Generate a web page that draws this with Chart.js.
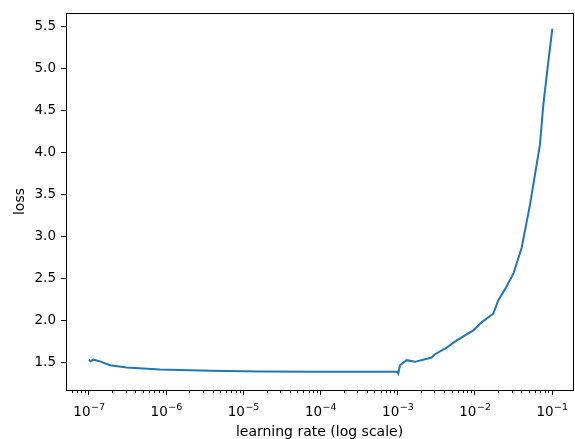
<!DOCTYPE html>
<html>
<head>
<meta charset="utf-8">
<script src="https://cdn.jsdelivr.net/npm/chart.js@4.4.1/dist/chart.umd.min.js"></script>
<style>
  html, body { margin: 0; padding: 0; background: #fff; }
</style>
</head>
<body>
<canvas id="lrChart" width="575" height="439"></canvas>
<script>
// learning rate finder curve
const learningRates = [1.0e-7, 1.05e-7, 1.14e-7, 1.39e-7, 1.87e-7, 3.08e-7, 8.3e-7, 3.7e-6, 1.64e-5, 9.8e-5, 3.2e-4,
    9.9e-4, 1.02e-3, 1.07e-3, 1.31e-3, 1.67e-3, 2.76e-3, 3.05e-3, 4.2e-3, 5.82e-3, 9.55e-3, 1.23e-2, 1.73e-2,
    2.01e-2, 2.5e-2, 3.15e-2, 4.05e-2, 5.19e-2, 6.98e-2, 7.71e-2, 8.95e-2, 1.01e-1];
const losses = [1.532, 1.512, 1.530, 1.51, 1.464, 1.437, 1.414, 1.397, 1.390, 1.385, 1.385,
    1.387, 1.366, 1.464, 1.524, 1.504, 1.556, 1.595, 1.666, 1.760, 1.879, 1.977, 2.077,
    2.234, 2.38, 2.550, 2.865, 3.378, 4.088, 4.561, 5.074, 5.468];

const xTicks = [1e-7, 1e-6, 1e-5, 1e-4, 1e-3, 1e-2, 1e-1];
const xTickExponents = ['\u22127', '\u22126', '\u22125', '\u22124', '\u22123', '\u22122', '\u22121'];
const minorSteps = [2, 3, 4, 5, 6, 7, 8, 9];
const yTicks = [1.5, 2.0, 2.5, 3.0, 3.5, 4.0, 4.5, 5.0, 5.5];

const font = 'DejaVu Sans';

// cadre, ticks mineurs et labels 10^n
const framePlugin = {
    id: 'frame',
    afterDraw(chart) {
        const { ctx, chartArea: a } = chart;
        const xs = chart.scales.x;
        ctx.save();
        ctx.strokeStyle = '#000';
        ctx.lineWidth = 1;
        for (let d = -8; d <= -1; d++) {
            minorSteps.forEach(k => {
                const v = k * Math.pow(10, d);
                if (v < xs.min || v > xs.max) return;
                const px = Math.round(xs.getPixelForValue(v)) + 0.5;
                ctx.beginPath();
                ctx.moveTo(px, a.bottom);
                ctx.lineTo(px, a.bottom + 3);
                ctx.stroke();
            });
        }
        ctx.strokeRect(Math.round(a.left) + 0.5, Math.round(a.top) + 0.5,
            Math.round(a.right - a.left), Math.round(a.bottom - a.top));

        // labels avec exposant
        ctx.fillStyle = '#000';
        ctx.textBaseline = 'alphabetic';
        ctx.textAlign = 'left';
        const baseFont = '13.5px "' + font + '"';
        const expFont = '9.5px "' + font + '"';
        xTicks.forEach((v, i) => {
            const px = xs.getPixelForValue(v);
            ctx.font = baseFont;
            const w1 = ctx.measureText('10').width;
            ctx.font = expFont;
            const w2 = ctx.measureText(xTickExponents[i]).width;
            const x0 = px - (w1 + w2) / 2;
            ctx.font = baseFont;
            ctx.fillText('10', x0, a.bottom + 26);
            ctx.font = expFont;
            ctx.fillText(xTickExponents[i], x0 + w1 + 0.5, a.bottom + 20);
        });
        ctx.restore();
    }
};

new Chart(document.getElementById('lrChart'), {
    type: 'scatter',
    data: {
        datasets: [{
            data: learningRates.map((lr, i) => ({ x: lr, y: losses[i] })),
            showLine: true,
            borderColor: '#1f77b4',
            borderWidth: 2,
            pointRadius: 0,
            tension: 0
        }]
    },
    options: {
        responsive: false,
        animation: false,
        layout: { padding: { top: 11, right: 2, left: 0, bottom: 0 } },
        plugins: { legend: { display: false }, tooltip: { enabled: false } },
        scales: {
            x: {
                type: 'logarithmic',
                min: 5.04e-8,
                max: 0.187,
                afterFit: s => { s.height = 49; },
                afterBuildTicks: s => { s.ticks = xTicks.map(v => ({ value: v })); },
                border: { display: false },
                grid: { drawOnChartArea: false, tickLength: 5, color: '#000' },
                ticks: {
                    autoSkip: false,
                    maxRotation: 0,
                    padding: 3,
                    font: { family: font, size: 13 },
                    callback: () => ''
                },
                title: {
                    display: true,
                    text: 'learning rate (log scale)',
                    color: '#000',
                    font: { family: font, size: 14, lineHeight: 1.0 },
                    padding: { top: 0, bottom: 0 }
                }
            },
            y: {
                min: 1.169,
                max: 5.654,
                afterFit: s => { s.width = 66; },
                afterBuildTicks: s => { s.ticks = yTicks.map(v => ({ value: v })); },
                border: { display: false },
                grid: { drawOnChartArea: false, tickLength: 5, color: '#000' },
                ticks: {
                    padding: 5,
                    color: '#000',
                    font: { family: font, size: 13.5 },
                    callback: v => v.toFixed(1)
                },
                title: {
                    display: true,
                    text: 'loss',
                    color: '#000',
                    font: { family: font, size: 14 },
                    padding: { top: 12, bottom: 0 }
                }
            }
        }
    },
    plugins: [framePlugin]
});
</script>
</body>
</html>
